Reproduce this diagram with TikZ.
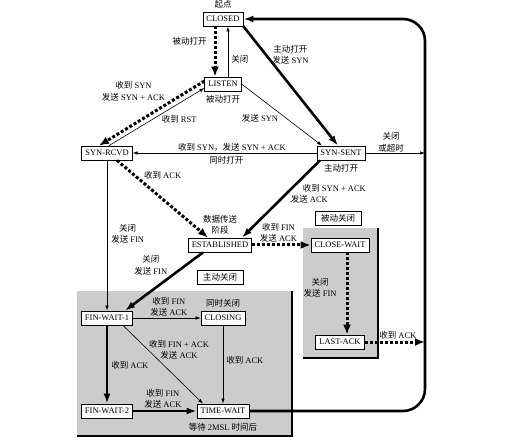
\documentclass[tikz,border=0pt]{standalone}
\usepackage{fontspec}
\setmainfont{Liberation Serif}
\newfontfamily\zh{Noto Sans CJK SC}
\usetikzlibrary{arrows.meta}
\tikzset{
    every node/.style={font=\fontsize{8.5}{11.5}\selectfont},
    state/.style={draw, fill=white, line width=0.8pt, inner xsep=3.5pt, inner ysep=2pt, minimum height=14pt}, % one box per TCP state
    tag/.style={state, inner xsep=6pt},
    lab/.style={align=center, inner sep=1pt}, % text on the edges
    clientpath/.style={-{Latex[length=10pt,width=7pt]}, line width=2.6pt}, % bold: client
    serverpath/.style={-{Latex[length=10pt,width=8pt]}, line width=3pt, dash pattern=on 3pt off 2pt}, % dotted: server
    otherpath/.style={-{Latex[length=5pt,width=3.5pt]}, line width=0.6pt},
    grayarea/.style={fill=gray!40},
    areaedge/.style={line width=2pt},
    }

\begin{document}
\begin{tikzpicture}[x=1pt, y=-1pt]
    \useasboundingbox (0,0) rectangle (520,441);

    % closing areas
    \fill[grayarea] (77,291) rectangle (292,436);
    \draw[areaedge] (292,291) -- (292,436) -- (77,436);
    \fill[grayarea] (303,228) rectangle (378,358);
    \draw[areaedge] (378,228) -- (378,358) -- (303,358);

    \node[state] at (223,19) (CLOSED) {CLOSED};
    \node[state] at ([yshift=-65pt]CLOSED) (LISTEN) {LISTEN};
    \node[state] at ([xshift=-116pt,yshift=-69pt]LISTEN) (SYNRCVD) {SYN-RCVD};
    \node[state] at ([xshift=234pt]SYNRCVD) (SYNSENT) {SYN-SENT};
    \node[state] at ([xshift=-3pt,yshift=-161pt]LISTEN) (ESTABLISHED) {ESTABLISHED};
    \node[state] at ([xshift=-1pt,yshift=-92pt]SYNSENT) (CLOSEWAIT) {CLOSE-WAIT};
    \node[state] at ([yshift=-97pt]CLOSEWAIT) (LASTACK) {LAST-ACK};
    \node[state] at ([yshift=-165pt]SYNRCVD) (FINWAIT1) {FIN-WAIT-1};
    \node[state] at ([xshift=116pt]FINWAIT1) (CLOSING) {CLOSING};
    \node[state] at ([yshift=-93pt]FINWAIT1) (FINWAIT2) {FIN-WAIT-2};
    \node[state] at ([xshift=116pt]FINWAIT2) (TIMEWAIT) {TIME-WAIT};

    \node[tag] at ([xshift=-2pt,yshift=27pt]CLOSEWAIT) (PASSIVECLOSE) {{\zh 被动关闭}};
    \node[tag] at ([yshift=-32pt]ESTABLISHED) (ACTIVECLOSE) {{\zh 主动关闭}};

    \node[lab] at ([yshift=15pt]CLOSED) (START) {{\zh 起点}};
    \node[lab] at ([yshift=-15pt]LISTEN) (PASSIVEOPEN) {{\zh 被动打开}};
    \node[lab] at ([yshift=-15pt]SYNSENT) (ACTIVEOPEN) {{\zh 主动打开}};
    \node[lab] at ([yshift=20pt]ESTABLISHED) (DATA) {{\zh 数据传送}\\{\zh 阶段}};
    \node[lab] at ([yshift=15pt]CLOSING) (SIMCLOSE) {{\zh 同时关闭}};
    \node[lab] at ([yshift=-16pt]TIMEWAIT) (WAIT2MSL) {{\zh 等待} 2MSL {\zh 时间后}};

    \coordinate (RT) at (425,19);
    \coordinate (RB) at (425,411);

    \draw[serverpath] ([xshift=-8pt]CLOSED.south) -- ([xshift=-8pt]LISTEN.north) node[lab,pos=0.3,left=6pt] {{\zh 被动打开}};
    \draw[otherpath] ([xshift=5pt]LISTEN.north) -- ([xshift=5pt]CLOSED.south) node[lab,pos=0.35,right=2pt] {{\zh 关闭}};
    \draw[clientpath] (CLOSED.south east) -- ([xshift=-3pt]SYNSENT.north) node[lab,pos=0.24,right=4pt] {{\zh 主动打开}\\{\zh 发送} SYN};

    \draw[serverpath] ([yshift=3pt]LISTEN.west) -- ([xshift=-8pt]SYNRCVD.north) node[lab,pos=0.35,above left] {{\zh 收到} SYN\\{\zh 发送} SYN + ACK};
    \draw[otherpath] ([xshift=2pt]SYNRCVD.north) -- ([yshift=-4pt]LISTEN.west) node[lab,pos=0.54,below right] {{\zh 收到} RST};
    \draw[otherpath] (LISTEN.east) -- ([xshift=-19pt]SYNSENT.north) node[lab,pos=0.47,below left] {{\zh 发送} SYN};

    \draw[otherpath] (SYNSENT.west) -- (SYNRCVD.east) node[lab,pos=0.46,above] {{\zh 收到} SYN{\zh ，发送} SYN + ACK} node[lab,pos=0.49,below=2pt] {{\zh 同时打开}};
    \draw[otherpath] (SYNSENT.east) -- (SYNSENT.east -| RT) node[lab,pos=0.43,above] {{\zh 关闭}\\{\zh 或超时}};

    \draw[serverpath] ([xshift=10pt]SYNRCVD.south) -- ([xshift=-12pt]ESTABLISHED.north) node[lab,pos=0.27,above right] {{\zh 收到} ACK};
    \draw[clientpath] ([xshift=-21pt]SYNSENT.south) -- ([xshift=22pt]ESTABLISHED.north) node[lab,pos=0.43,right=2pt,align=left] {\hspace{12pt}{\zh 收到} SYN + ACK\\{\zh 发送} ACK};

    \draw[otherpath] (SYNRCVD.south) -- (FINWAIT1.north) node[lab,pos=0.49,right=3pt] {{\zh 关闭}\\{\zh 发送} FIN};
    \draw[clientpath] ([xshift=-17pt]ESTABLISHED.south) -- ([xshift=18pt]FINWAIT1.north) node[lab,pos=0.43,above left] {{\zh 关闭}\\{\zh 发送} FIN};

    \draw[serverpath] (ESTABLISHED.east) -- (CLOSEWAIT.west) node[lab,pos=0.45,above] {{\zh 收到} FIN\\{\zh 发送} ACK};
    \draw[serverpath] ([xshift=7pt]CLOSEWAIT.south) -- ([xshift=7pt]LASTACK.north) node[lab,pos=0.43,left=8pt] {{\zh 关闭}\\{\zh 发送} FIN};
    \draw[serverpath] (LASTACK.east) -- (LASTACK.east -| RT) node[lab,pos=0.55,above] {{\zh 收到} ACK};

    \draw[otherpath] (FINWAIT1.east) -- (CLOSING.west) node[lab,pos=0.53,above] {{\zh 收到} FIN\\{\zh 发送} ACK};
    \draw[otherpath] ([xshift=16pt]FINWAIT1.south) -- ([xshift=-20pt]TIMEWAIT.north) node[lab,pos=0.31,right] {{\zh 收到} FIN + ACK\\{\zh 发送} ACK};
    \draw[otherpath] (CLOSING.south) -- (TIMEWAIT.north) node[lab,pos=0.44,right=2pt] {{\zh 收到} ACK};
    \draw[clientpath] (FINWAIT1.south) -- (FINWAIT2.north) node[lab,pos=0.51,right=2pt] {{\zh 收到} ACK};
    \draw[clientpath] (FINWAIT2.east) -- (TIMEWAIT.west) node[lab,pos=0.47,above] {{\zh 收到} FIN\\{\zh 发送} ACK};

    \draw[clientpath, rounded corners=22pt] (TIMEWAIT.east) -- (RB) -- (RT) -- (CLOSED.east);
\end{tikzpicture}
\end{document}
